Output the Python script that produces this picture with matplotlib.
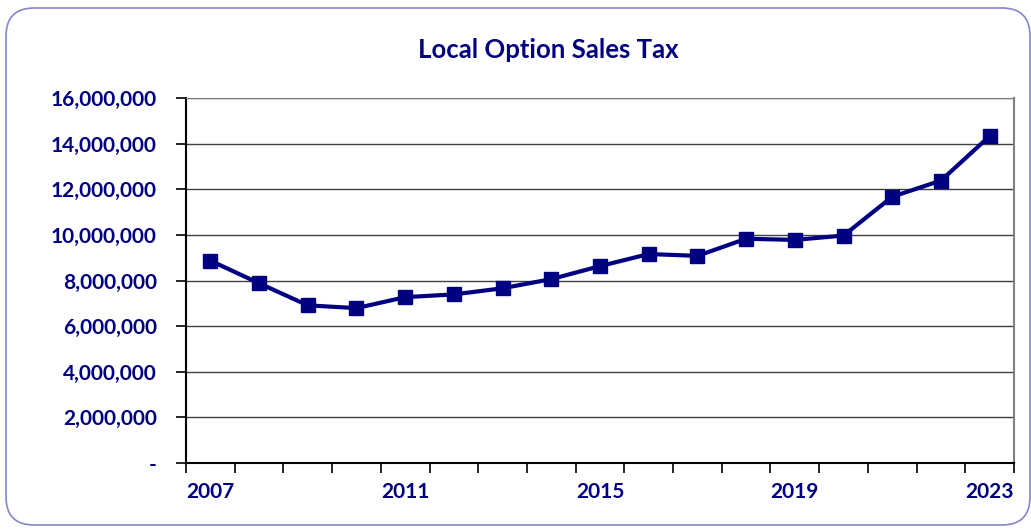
import numpy as np
import matplotlib
matplotlib.use("Agg")
import matplotlib.pyplot as plt
from matplotlib.patches import FancyBboxPatch
from matplotlib.transforms import IdentityTransform
from matplotlib.ticker import FuncFormatter, FixedLocator

years = list(range(2007, 2024))
values = [8870000, 7880000, 6910000, 6790000, 7270000, 7390000, 7660000, 8060000,
          8630000, 9160000, 9080000, 9830000, 9780000, 9970000, 11670000, 12380000, 14330000]
shown_labels = [2007, 2011, 2015, 2019, 2023]

NAVY = "#000080"
plt.rcParams["font.family"] = ["Lato", "DejaVu Sans"]
plt.rcParams["font.weight"] = "bold"

W, H = 1031, 532
fig = plt.figure(figsize=(W / 100, H / 100), dpi=100)

# rounded outer frame (pixel coords, origin bottom-left)
frame = FancyBboxPatch((6, 7), 1024, 517,
                       boxstyle="round,pad=0,rounding_size=28",
                       transform=IdentityTransform(), fc="none", ec="#8585cc", lw=1.2,
                       zorder=-1)
fig.patches.append(frame)

ax = fig.add_axes([186 / W, 1 - 463 / H, (1014 - 186) / W, (463 - 98) / H])
x = np.arange(len(years))
ax.plot(x, values, "-s", color=NAVY, lw=3, ms=10, mec=NAVY, mfc=NAVY, zorder=3)

ax.set_xlim(-0.5, len(years) - 0.5)
ax.set_ylim(0, 16000000)
ax.set_yticks(np.arange(0, 16000001, 2000000))
ax.yaxis.set_major_formatter(FuncFormatter(lambda v, p: "-" if v == 0 else f"{v:,.0f}"))
ax.yaxis.grid(True, color="#404040", lw=1)
ax.set_axisbelow(True)

# ticks between categories, labels at category centres
ax.xaxis.set_major_locator(FixedLocator(np.arange(-0.5, len(years), 1)))
ax.xaxis.set_major_formatter(FuncFormatter(lambda v, p: ""))
ax.xaxis.set_minor_locator(FixedLocator([years.index(y) for y in shown_labels]))
ax.xaxis.set_minor_formatter(FuncFormatter(lambda v, p: str(years[int(round(v))])))
ax.tick_params(axis="x", which="major", length=7, width=1.2, color="black", direction="out")
ax.tick_params(axis="x", which="minor", length=0, pad=14, labelsize=15, labelcolor=NAVY)
ax.tick_params(axis="y", length=7, width=1.2, color="black", pad=14, labelsize=15, labelcolor=NAVY)
for lab in ax.get_xticklabels(minor=True) + ax.get_yticklabels():
    lab.set_fontweight("bold")

ax.spines["left"].set_color("black")
ax.spines["bottom"].set_color("black")
ax.spines["left"].set_linewidth(1.5)
ax.spines["bottom"].set_linewidth(1.5)
ax.spines["right"].set_color("#808080")
ax.spines["top"].set_color("#808080")
ax.spines["right"].set_linewidth(1.5)

fig.text(548 / W, 1 - 50 / H, "Local Option Sales Tax", ha="center", va="center",
         fontsize=18.5, fontweight="bold", color=NAVY)

fig.savefig("out.png", dpi=100)
